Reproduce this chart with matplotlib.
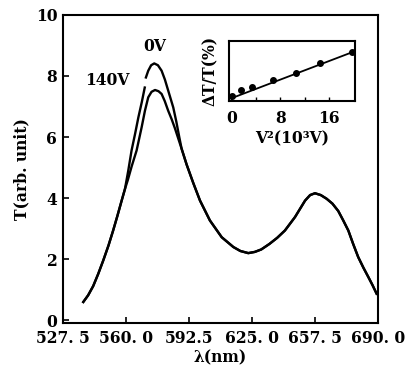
import numpy as np
import matplotlib
matplotlib.use("Agg")
import matplotlib.pyplot as plt
from matplotlib import font_manager

# Main spectra (wavelength nm, transmittance arb. unit)
wl_0v = [538.0, 540.5, 543.1, 545.7, 548.3, 551.0, 553.4, 555.6, 557.8, 559.5,
         561.2, 562.9, 564.7, 566.4, 568.2, 569.7, np.nan,
         570.3, 571.5, 573.0, 574.6, 576.5, 578.4, 580.1, 581.8, 584.4, 586.0,
         587.5, 588.7, 591.3, 594.7, 598.2, 603.3, 609.4, 615.4, 619.0, 623.1,
         626.5, 629.8, 634.0, 638.0, 642.0, 647.2, 652.4, 655.0, 657.5, 660.5,
         663.5, 666.5, 669.5, 672.0, 674.7, 677.2, 679.8, 682.5, 685.0, 687.2,
         689.3]
t_0v = [0.60, 0.82, 1.12, 1.52, 1.96, 2.45, 2.94, 3.42, 3.92, 4.30,
        4.90, 5.56, 6.10, 6.64, 7.15, 7.62, np.nan,
        7.95, 8.17, 8.35, 8.41, 8.35, 8.17, 7.88, 7.52, 6.97, 6.50,
        6.00, 5.62, 5.10, 4.50, 3.92, 3.27, 2.72, 2.40, 2.27, 2.20,
        2.24, 2.32, 2.50, 2.70, 2.94, 3.38, 3.92, 4.10, 4.16, 4.10,
        3.98, 3.82, 3.58, 3.28, 2.94, 2.50, 2.07, 1.72, 1.42, 1.15,
        0.87]

wl_140v = [538.0, 540.5, 543.1, 545.7, 548.3, 551.0, 553.4, 555.6, 557.8, 559.5,
           561.0, 563.0, 565.5, 568.1, 569.8, 571.5, 573.2, 575.0, 576.8,
           578.4, 580.0, 581.8, 583.6, 585.3, 587.0,
           588.7, 591.3, 594.7, 598.2, 603.3, 609.4, 615.4, 619.0, 623.1,
           626.5, 629.8, 634.0, 638.0, 642.0, 647.2, 652.4, 655.0, 657.5, 660.5,
           663.5, 666.5, 669.5, 672.0, 674.7, 677.2, 679.8, 682.5, 685.0, 687.2,
           689.3]
t_140v = [0.60, 0.82, 1.12, 1.52, 1.96, 2.45, 2.94, 3.42, 3.92, 4.30,
          4.60, 5.05, 5.56, 6.32, 6.86, 7.30, 7.48, 7.54, 7.50,
          7.41, 7.18, 6.86, 6.58, 6.28, 5.95,
          5.62, 5.10, 4.50, 3.92, 3.27, 2.72, 2.40, 2.27, 2.20,
          2.24, 2.32, 2.50, 2.70, 2.94, 3.38, 3.92, 4.10, 4.16, 4.10,
          3.98, 3.82, 3.58, 3.28, 2.94, 2.50, 2.07, 1.72, 1.42, 1.15,
          0.87]

xtick_vals = [527.5, 560.0, 592.5, 625.0, 657.5, 690.0]
xtick_labels = ["527. 5", "560. 0", "592.5", "625. 0", "657. 5", "690. 0"]
ytick_vals = [0, 2, 4, 6, 8, 10]

# Inset data: dT/T vs V^2
v2 = [0.15, 1.6, 3.4, 6.8, 10.5, 14.5, 19.8]
dtt = [0.08, 0.19, 0.24, 0.35, 0.47, 0.64, 0.81]
fit_x = [0.0, 20.0]
fit_y = [0.05, 0.82]

names = {f.name for f in font_manager.fontManager.ttflist}
if "DejaVu Serif Condensed" in names:
    fam, fs = "DejaVu Serif Condensed", 12.2
else:
    fam, fs = "DejaVu Serif", 11.2
font = dict(family=fam, weight="bold")

fig = plt.figure(figsize=(4.14, 3.71), dpi=100)
ax = fig.add_axes([0.152, 0.130, 0.761, 0.830])
ax.plot(wl_0v, t_0v, color="black", lw=1.7, solid_joinstyle="round")
ax.plot(wl_140v, t_140v, color="black", lw=1.7, solid_joinstyle="round")
ax.set_xlim(527.5, 690.0)
ax.set_ylim(-0.08, 10.0)
ax.set_xticks(xtick_vals)
ax.set_xticklabels(xtick_labels, fontdict=dict(size=fs, **font))
ax.set_yticks(ytick_vals)
ax.set_yticklabels([str(v) for v in ytick_vals], fontdict=dict(size=fs, **font))
ax.tick_params(axis="both", direction="in", length=4, width=1.2)
ax.tick_params(axis="x", pad=5)
ax.tick_params(axis="y", pad=4)
for s in ax.spines.values():
    s.set_linewidth(1.5)
ax.set_xlabel("λ(nm)", fontsize=fs, labelpad=2, **font)
ax.set_ylabel("T(arb. unit)", fontsize=fs, labelpad=4, **font)
ax.text(575.0, 8.95, "0V", ha="center", va="center", fontsize=fs, **font)
ax.text(550.2, 7.84, "140V", ha="center", va="center", fontsize=fs, **font)

ins = fig.add_axes([0.553, 0.727, 0.304, 0.163])
ins.plot(fit_x, fit_y, color="black", lw=1.3)
ins.plot(v2, dtt, "o", color="black", ms=4)
ins.set_xlim(-0.4, 20.2)
ins.set_ylim(0, 1)
ins.set_xticks([0, 4, 8, 12, 16])
ins.set_xticklabels(["0", "", "8", "", "16"], fontdict=dict(size=fs, **font))
ins.set_yticks([])
ins.tick_params(direction="in", length=3, width=1.0, pad=6)
for s in ins.spines.values():
    s.set_linewidth(1.5)
ins.set_xlabel("V²(10³V)", fontsize=fs, labelpad=3, **font)
ins.set_ylabel("ΔT/T(%)", fontsize=fs, labelpad=7, **font)

fig.savefig("out.png", dpi=100)
